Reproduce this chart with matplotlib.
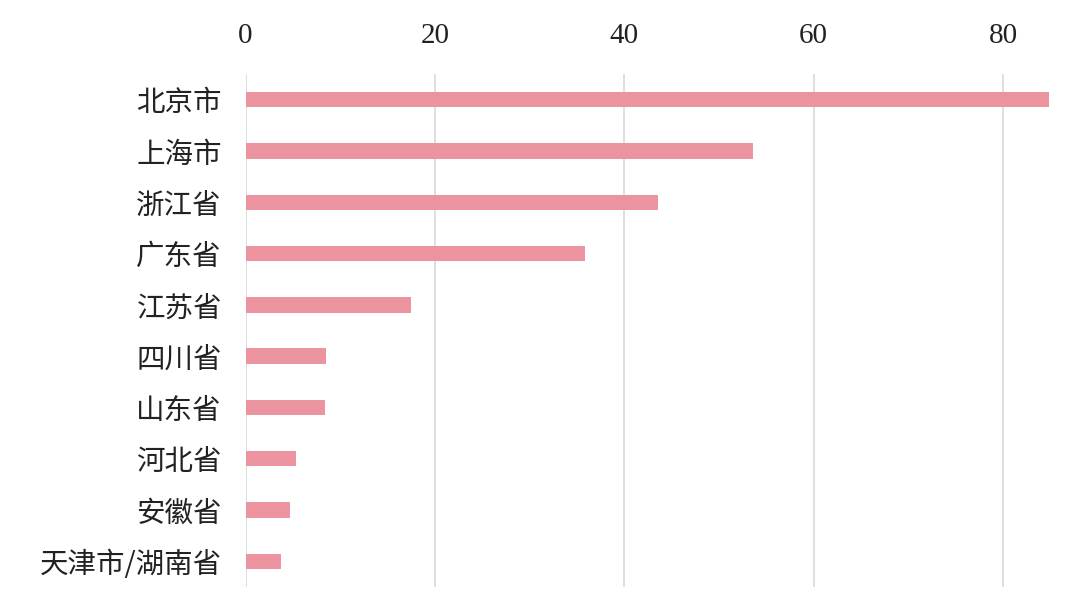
import matplotlib
matplotlib.use("Agg")
import matplotlib.pyplot as plt

categories = ["北京市", "上海市", "浙江省", "广东省", "江苏省", "四川省", "山东省", "河北省", "安徽省", "天津市/湖南省"]
values = [84.8, 53.6, 43.6, 35.9, 17.5, 8.5, 8.4, 5.3, 4.7, 3.8]
xticks = [0, 20, 40, 60, 80]

plt.rcParams['font.family'] = ['Noto Sans CJK SC', 'DejaVu Sans']

fig = plt.figure(figsize=(10.8, 6.06), dpi=100)
W, H = 1080, 606
x0, x1 = 245.5, 245.5 + 86 * 9.47
y_top, y_bot = 74, 587
ax = fig.add_axes([x0 / W, 1 - y_bot / H, (x1 - x0) / W, (y_bot - y_top) / H])

ypos = list(range(len(categories)))
ax.barh(ypos, values, height=0.3, color="#EB939E", zorder=3)
ax.set_ylim(len(categories) - 0.5, -0.5)
ax.set_xlim(0, 86)

ax.set_yticks(ypos)
ax.set_yticklabels(categories, fontsize=20.5, color="#222222", fontweight="light")
ax.set_xticks(xticks)
ax.set_xticklabels([str(t) for t in xticks], fontsize=21, color="#222222",
                   family=["Liberation Serif", "DejaVu Serif"])
ax.xaxis.tick_top()
ax.tick_params(axis="x", length=0, pad=18)
ax.tick_params(axis="y", length=0, pad=17)

ax.grid(axis="x", color="#D9D9D9", linewidth=1.2, zorder=0)
for s in ax.spines.values():
    s.set_visible(False)

fig.savefig("out.png", dpi=100)
